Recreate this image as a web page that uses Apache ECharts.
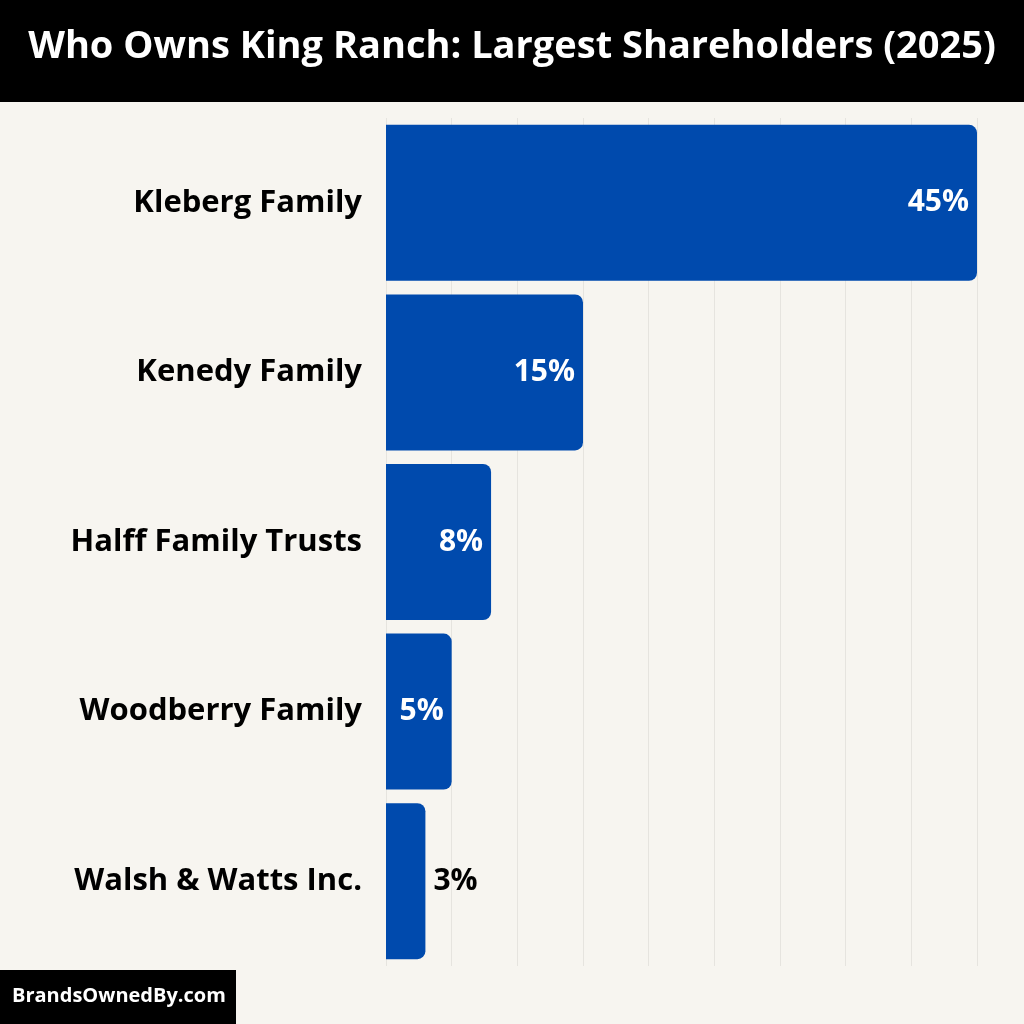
<!DOCTYPE html>
<html><head><meta charset="utf-8">
<script src="https://cdn.jsdelivr.net/npm/echarts@6/dist/echarts.min.js"></script>
<style>html,body{margin:0;padding:0;background:#f7f5f0}#c{width:1024px;height:1024px}</style>
</head><body><div id="c"></div>
<script>
const categories = ["Kleberg Family","Kenedy Family","Halff Family Trusts","Woodberry Family","Walsh & Watts Inc."];
const values = [45,15,8,5,3];
const valueLabels = ["45%","15%","8%","5%","3%"];
const chart = echarts.init(document.getElementById('c'));
const F = "'Open Sans', sans-serif";
chart.setOption({
  backgroundColor:'#f7f5f0',
  graphic:[
    {type:'rect',left:0,top:0,shape:{width:1024,height:102},style:{fill:'#000'}},
    {type:'text',left:'center',top:28,style:{text:'Who Owns King Ranch: Largest Shareholders (2025)',fill:'#fff',font:"bold 38px 'Open Sans', sans-serif"}},
    {type:'rect',left:0,top:970,shape:{width:236,height:54},style:{fill:'#000'}},
    {type:'text',left:12,top:986,style:{text:'BrandsOwnedBy.com',fill:'#fff',font:"bold 20px 'Open Sans', sans-serif"}}
  ],
  grid:{left:386,right:47,top:118,bottom:58,containLabel:false},
  xAxis:{type:'value',min:0,max:45,interval:5,axisLabel:{show:false},axisLine:{show:false},axisTick:{show:false},
    splitLine:{show:true,lineStyle:{color:'#e6e4df',width:1}}},
  yAxis:{type:'category',inverse:true,data:categories,axisLine:{show:false},axisTick:{show:false},
    axisLabel:{color:'#000',fontFamily:F,fontWeight:'bold',fontSize:31,margin:24}},
  series:[{type:'bar',barCategoryGap:'8%',
    data:values.map((v,i)=>({value:v,label:i===4?{position:'right',color:'#000',distance:8}:{position:'insideRight',color:'#fff',distance:8}})),
    itemStyle:{color:'#004aad',borderRadius:[0,8,8,0]},
    label:{show:true,fontFamily:F,fontWeight:'bold',fontSize:30,formatter:p=>valueLabels[p.dataIndex]}}]
});
</script></body></html>
